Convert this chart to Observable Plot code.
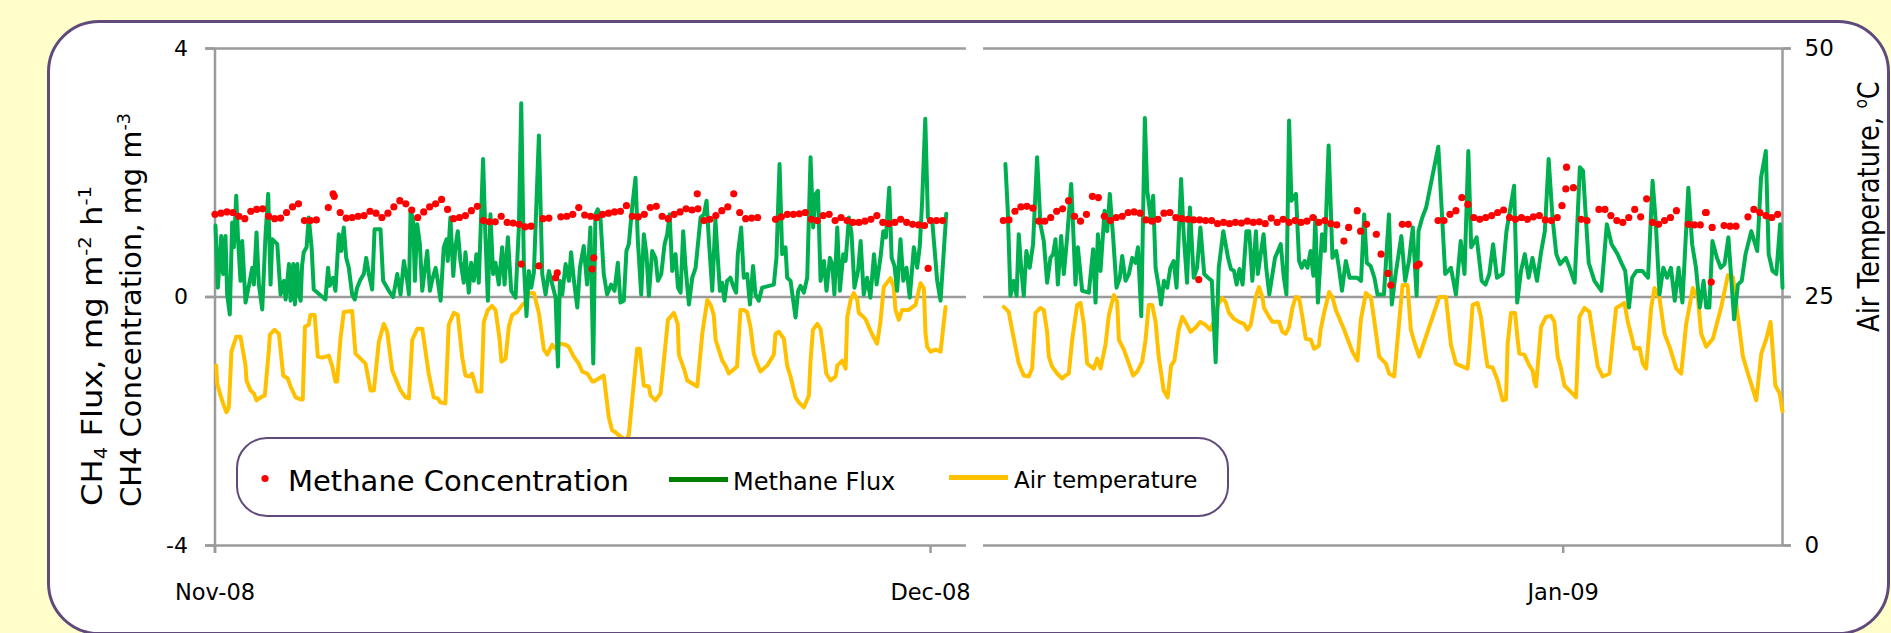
<!DOCTYPE html>
<html>
<head>
<meta charset="utf-8">
<script src="https://cdn.jsdelivr.net/npm/d3@7"></script>
<script src="https://cdn.jsdelivr.net/npm/@observablehq/plot@0.6"></script>
<style>
html,body{margin:0;padding:0;background:#FFFFCC;width:1891px;height:633px;overflow:hidden;position:relative;}
#panel{position:absolute;left:47px;top:20px;width:1843px;height:615px;box-sizing:border-box;border:3px solid #604A7B;border-radius:52px;background:#fff;}
#chart{position:absolute;left:0;top:0;width:1891px;height:633px;}
#chart svg{display:block;}
#overlay{position:absolute;left:0;top:0;}
</style>
</head>
<body>
<div id="panel"></div>
<div id="chart"></div>
<svg id="overlay" width="1891" height="633" font-family="DejaVu Sans">
  <!-- legend -->
  <rect x="237" y="438" width="991" height="78" rx="30" ry="30" fill="#fff" stroke="#604A7B" stroke-width="2"/>
  <circle cx="265" cy="478.5" r="3.6" fill="#FF0000"/>
  <text x="288" y="490.5" font-size="29" fill="#000">Methane Concentration</text>
  <line x1="669" x2="728" y1="479.5" y2="479.5" stroke="#008000" stroke-width="5"/>
  <text x="733" y="490" font-size="24" fill="#000">Methane Flux</text>
  <line x1="949" x2="1008" y1="477.5" y2="477.5" stroke="#FFC000" stroke-width="5"/>
  <text x="1014" y="488" font-size="23" fill="#000">Air temperature</text>
  <!-- axis titles -->
  <text transform="translate(102,506) rotate(-90)" font-size="28" fill="#000" textLength="320" lengthAdjust="spacingAndGlyphs">CH<tspan font-size="17" dy="5">4</tspan><tspan dy="-5"> Flux, mg m</tspan><tspan font-size="17" dy="-11">-2</tspan><tspan dy="11"> h</tspan><tspan font-size="17" dy="-11">-1</tspan></text>
  <text transform="translate(141,507) rotate(-90)" font-size="28" fill="#000" textLength="394" lengthAdjust="spacingAndGlyphs">CH4 Concentration, mg m<tspan font-size="17" dy="-11">-3</tspan></text>
  <text transform="translate(1879,332) rotate(-90) scale(0.86,1)" font-size="30" fill="#000">Air Temperature, <tspan font-size="18" dy="-12">o</tspan><tspan dy="12">C</tspan></text>
</svg>
<script>
// ---- x: days since 1 Nov 2008 (logger gap ~2-7 Dec 2008, axis broken there) ----
const xDomain = [0, 30.67, 37.52, 70.2];
const xTickDays = [0, 30, 61];
const xTickLabels = ["Nov-08", "Dec-08", "Jan-09"];
// ---- y ticks ----
const leftTicks = [-4, 0, 4];
const rightTickLabels = ["0", "25", "50"];
const tempRange = [0, 50];

// Air temperature (deg C), [day, value]
const tempSeg1 = [[0.05,18.1],[0.09,16.3],[0.23,15.1],[0.34,14.3],[0.48,13.4],[0.58,13.9],[0.69,19.5],[0.89,21.0],[1.07,21.0],[1.28,18.1],[1.32,16.6],[1.49,15.6],[1.63,15.3],[1.74,14.6],[1.91,14.9],[2.09,15.1],[2.26,19.7],[2.30,21.2],[2.49,21.7],[2.68,21.3],[2.86,17.1],[3.05,16.8],[3.17,16.0],[3.38,14.9],[3.58,14.7],[3.68,14.7],[3.77,22.0],[3.93,22.2],[4.00,23.2],[4.18,23.2],[4.31,19.0],[4.49,18.9],[4.77,19.1],[4.91,18.1],[5.05,16.5],[5.12,16.5],[5.26,20.8],[5.40,23.5],[5.75,23.6],[5.89,19.3],[6.10,18.8],[6.31,18.3],[6.52,15.6],[6.66,15.6],[6.87,20.5],[7.08,22.3],[7.22,21.5],[7.43,17.6],[7.57,16.8],[7.78,15.6],[7.99,14.9],[8.13,14.8],[8.27,20.7],[8.48,21.8],[8.69,21.8],[8.96,17.3],[9.17,14.9],[9.34,14.8],[9.45,14.4],[9.66,14.3],[9.80,22.2],[10.01,23.4],[10.18,23.2],[10.36,19.0],[10.50,17.1],[10.68,17.0],[10.78,17.3],[10.99,15.5],[11.17,15.5],[11.27,22.5],[11.44,23.7],[11.62,24.1],[11.76,23.7],[11.93,20.8],[12.01,18.5],[12.18,18.8],[12.32,22.0],[12.46,23.2],[12.67,23.5],[12.88,24.2],[13.02,24.5],[13.16,25.4],[13.37,25.4],[13.58,23.4],[13.79,19.7],[13.93,19.2],[14.14,20.2],[14.28,19.8],[14.49,20.3],[14.70,20.2],[14.83,20.0],[15.04,19.0],[15.25,18.3],[15.40,17.5],[15.61,17.3],[15.82,16.5],[15.88,16.5],[16.30,17.1],[16.51,12.9],[16.65,11.6],[16.79,11.4],[16.93,11.1],[17.21,10.6],[17.35,11.1],[17.49,14.6],[17.70,19.8],[17.81,19.8],[17.98,16.1],[18.19,16.0],[18.26,15.1],[18.47,14.6],[18.68,15.3],[18.82,18.6],[18.99,22.7],[19.24,23.4],[19.40,22.3],[19.45,19.2],[19.66,17.8],[19.80,16.6],[20.01,16.3],[20.22,16.0],[20.43,21.3],[20.64,24.7],[20.78,24.2],[20.91,23.2],[20.99,20.7],[21.12,19.7],[21.27,18.6],[21.40,18.1],[21.54,17.3],[21.89,18.0],[22.03,23.7],[22.17,23.7],[22.31,23.5],[22.45,22.0],[22.59,19.3],[22.73,18.3],[22.87,17.5],[23.15,18.1],[23.43,19.2],[23.50,21.3],[23.64,21.5],[23.85,20.8],[23.99,18.1],[24.13,17.0],[24.34,14.9],[24.48,14.4],[24.69,13.9],[24.90,15.1],[24.97,18.6],[25.07,21.7],[25.25,22.3],[25.39,21.8],[25.53,19.3],[25.63,17.3],[25.81,16.6],[26.02,17.0],[26.09,18.1],[26.30,18.6],[26.44,17.8],[26.51,23.0],[26.65,24.7],[26.78,25.4],[26.93,24.7],[26.99,23.4],[27.14,23.1],[27.27,22.8],[27.41,22.0],[27.56,21.2],[27.76,20.3],[27.90,22.5],[28.04,26.0],[28.32,26.9],[28.46,26.0],[28.53,23.7],[28.67,22.7],[28.81,23.7],[29.09,23.7],[29.37,24.2],[29.58,26.4],[29.72,25.9],[29.79,21.3],[29.86,20.0],[30.00,19.5],[30.21,19.7],[30.42,19.5],[30.63,24.0]];
const tempSeg2 = [[37.53,24.0],[37.74,23.5],[37.88,21.7],[38.02,20.0],[38.16,18.3],[38.37,17.1],[38.58,17.0],[38.72,17.8],[38.86,23.4],[39.07,23.9],[39.21,23.7],[39.35,21.5],[39.42,19.0],[39.56,18.0],[39.77,17.3],[39.98,16.8],[40.12,17.1],[40.26,17.3],[40.40,20.7],[40.61,24.2],[40.75,24.4],[40.89,22.3],[41.03,18.3],[41.31,17.8],[41.45,18.8],[41.59,17.8],[41.80,20.2],[41.94,23.2],[42.15,25.2],[42.29,24.5],[42.36,20.7],[42.57,19.7],[42.78,18.3],[42.96,17.1],[43.13,17.5],[43.34,18.5],[43.48,20.7],[43.61,24.2],[43.76,24.2],[43.90,22.5],[44.03,19.0],[44.24,15.6],[44.41,14.9],[44.55,18.1],[44.69,18.6],[44.87,21.7],[45.02,23.0],[45.15,22.5],[45.37,21.5],[45.57,21.9],[45.78,22.5],[45.99,22.2],[46.20,21.7],[46.34,22.5],[46.51,24.2],[46.70,24.9],[46.84,24.5],[46.98,23.4],[47.19,22.8],[47.40,22.5],[47.61,22.3],[47.75,21.7],[47.89,22.2],[48.10,25.0],[48.24,26.0],[48.38,25.0],[48.45,23.9],[48.66,23.0],[48.80,22.5],[49.08,22.5],[49.22,21.5],[49.36,21.3],[49.50,22.0],[49.64,23.9],[49.78,25.0],[49.92,24.9],[50.06,23.0],[50.20,20.8],[50.41,20.7],[50.55,19.8],[50.75,20.1],[50.83,21.8],[50.97,23.4],[51.18,25.5],[51.32,25.0],[51.46,23.7],[51.67,22.5],[51.81,21.7],[51.95,20.8],[52.16,19.5],[52.37,18.6],[52.51,22.7],[52.72,25.4],[52.93,25.0],[53.07,22.7],[53.28,19.0],[53.56,18.3],[53.70,17.3],[53.91,17.0],[54.26,26.2],[54.47,26.2],[54.61,21.7],[54.75,20.5],[54.96,19.0],[55.80,25.0],[56.08,25.0],[56.29,20.2],[56.50,18.3],[56.78,18.0],[56.99,17.8],[57.06,19.7],[57.20,24.2],[57.41,24.4],[57.55,23.0],[57.76,19.0],[57.83,18.0],[58.04,17.9],[58.25,16.6],[58.46,14.6],[58.60,14.7],[58.67,20.3],[58.81,23.4],[58.98,23.4],[59.09,20.7],[59.16,19.3],[59.37,19.2],[59.58,18.1],[59.72,17.6],[59.79,16.5],[59.86,16.0],[60.07,22.0],[60.28,23.0],[60.49,23.1],[60.63,22.5],[60.77,19.0],[60.91,17.8],[61.05,16.1],[61.26,15.6],[61.54,14.9],[61.68,23.0],[61.89,23.9],[62.10,23.5],[62.24,21.3],[62.45,18.0],[62.66,17.0],[62.94,17.3],[63.08,20.7],[63.22,23.9],[63.43,24.2],[63.57,24.4],[63.71,22.5],[63.85,21.2],[63.99,19.8],[64.20,19.9],[64.34,18.3],[64.48,17.8],[64.69,23.9],[64.83,25.9],[65.04,24.9],[65.25,21.3],[65.46,20.0],[65.74,17.8],[65.95,17.3],[66.16,22.3],[66.44,25.9],[66.65,24.9],[66.79,21.3],[67.00,20.0],[67.28,20.8],[67.63,24.0],[67.91,27.2],[68.12,27.0],[68.33,23.0],[68.54,19.0],[68.75,17.3],[69.10,14.6],[69.31,19.3],[69.52,20.8],[69.70,22.5],[69.90,16.1],[70.08,15.3],[70.2,13.5]];

// Methane flux (mg m-2 h-1), [day, value]
const fluxSeg1 = [[0.02,1.15],[0.12,0.15],[0.26,0.98],[0.34,0.37],[0.44,0.98],[0.51,0.04],[0.62,-0.28],[0.72,1.20],[0.79,0.80],[0.89,1.63],[0.97,0.90],[1.07,0.26],[1.14,0.90],[1.28,-0.09],[1.46,0.26],[1.56,0.47],[1.63,0.20],[1.74,1.04],[1.84,0.20],[1.98,-0.20],[2.12,1.01],[2.23,1.66],[2.33,0.20],[2.40,0.93],[2.61,0.85],[2.75,0.04],[2.89,0.26],[2.96,-0.04],[3.10,0.53],[3.17,-0.06],[3.28,0.53],[3.35,-0.12],[3.45,0.53],[3.52,0.04],[3.59,-0.06],[3.65,0.50],[3.72,0.72],[3.84,0.80],[3.93,1.28],[4.05,0.80],[4.14,0.12],[4.63,-0.04],[4.74,0.47],[4.81,0.18],[4.95,0.31],[5.05,0.10],[5.19,1.01],[5.29,0.74],[5.40,1.12],[5.50,0.63],[5.61,0.47],[5.75,0.04],[5.86,-0.04],[5.96,0.15],[6.10,0.28],[6.24,0.37],[6.34,0.63],[6.45,0.37],[6.59,0.12],[6.69,1.09],[6.94,1.09],[7.05,0.26],[7.29,0.10],[7.47,0.00],[7.64,0.37],[7.78,0.04],[7.92,0.58],[8.06,0.26],[8.13,0.04],[8.20,1.41],[8.31,1.23],[8.38,0.26],[8.48,1.17],[8.59,0.85],[8.69,0.10],[8.78,0.39],[8.90,0.74],[9.01,0.10],[9.11,0.28],[9.25,0.47],[9.34,0.26],[9.46,-0.06],[9.59,0.80],[9.71,0.93],[9.76,0.58],[9.87,1.28],[9.99,0.34],[10.08,0.80],[10.18,1.06],[10.29,0.58],[10.43,0.23],[10.50,0.72],[10.64,0.07],[10.74,0.55],[10.85,0.26],[10.96,0.69],[11.06,0.23],[11.24,2.22],[11.34,0.96],[11.44,-0.06],[11.55,1.33],[11.66,0.37],[11.76,0.55],[11.90,0.20],[12.04,0.80],[12.14,0.20],[12.28,0.96],[12.42,0.10],[12.60,-0.01],[12.74,1.12],[12.84,3.12],[12.95,0.53],[13.06,-0.31],[13.16,0.42],[13.26,0.15],[13.37,0.39],[13.58,2.60],[13.72,0.37],[13.86,0.04],[14.00,0.42],[14.14,0.20],[14.28,-0.01],[14.38,-1.12],[14.46,0.26],[14.56,0.04],[14.70,0.53],[14.84,0.26],[14.93,0.72],[15.05,0.26],[15.19,-0.17],[15.30,0.47],[15.46,0.82],[15.60,0.20],[15.74,1.12],[15.86,-1.07],[15.95,1.33],[16.05,1.41],[16.16,1.28],[16.30,0.37],[16.44,0.04],[16.61,0.20],[16.75,0.10],[16.89,0.55],[17.00,-0.09],[17.14,-0.06],[17.25,0.74],[17.35,0.85],[17.49,1.44],[17.63,1.92],[17.73,0.90],[17.87,0.04],[17.98,1.01],[18.09,0.69],[18.19,0.02],[18.33,0.74],[18.47,0.63],[18.57,0.26],[18.71,0.37],[18.85,0.85],[18.96,1.01],[19.06,1.33],[19.17,0.42],[19.31,0.69],[19.41,0.15],[19.52,0.07],[19.63,1.06],[19.73,0.47],[19.87,-0.12],[20.01,0.31],[20.15,0.47],[20.36,1.28],[20.50,1.33],[20.61,1.55],[20.71,0.90],[20.85,0.10],[20.98,1.25],[21.08,0.63],[21.17,0.10],[21.26,0.23],[21.36,-0.06],[21.47,0.26],[21.61,0.31],[21.75,0.15],[21.85,0.07],[21.92,0.69],[22.06,1.12],[22.17,0.31],[22.31,0.37],[22.43,-0.12],[22.56,0.50],[22.66,0.04],[22.80,-0.06],[22.94,0.15],[23.43,0.20],[23.54,0.63],[23.67,2.14],[23.78,0.69],[23.92,0.80],[23.99,0.31],[24.13,0.26],[24.34,-0.33],[24.45,0.10],[24.55,0.18],[24.69,0.07],[24.83,0.31],[24.97,2.25],[25.08,1.12],[25.18,1.66],[25.28,1.71],[25.39,0.26],[25.53,0.58],[25.64,0.10],[25.78,0.63],[25.88,0.53],[25.97,0.04],[26.09,1.12],[26.20,0.10],[26.34,0.69],[26.44,0.58],[26.58,1.28],[26.69,1.01],[26.81,0.15],[26.96,0.42],[27.07,0.90],[27.20,0.04],[27.34,0.31],[27.48,-0.01],[27.63,0.69],[27.74,0.20],[27.90,0.63],[28.02,1.06],[28.13,0.96],[28.27,1.76],[28.37,0.63],[28.49,0.50],[28.60,0.10],[28.74,0.93],[28.86,0.26],[28.99,0.47],[29.13,-0.01],[29.30,0.80],[29.44,0.47],[29.55,0.82],[29.65,1.55],[29.78,2.87],[29.89,1.28],[30.07,1.23],[30.28,0.26],[30.42,-0.06],[30.66,1.34]];
const fluxSeg2 = [[37.60,2.14],[37.70,1.39],[37.81,0.02],[37.95,0.26],[38.07,0.02],[38.16,1.01],[38.26,0.47],[38.37,0.02],[38.48,0.74],[38.62,0.47],[38.76,0.85],[38.93,2.25],[39.07,1.17],[39.21,0.90],[39.35,0.23],[39.49,0.63],[39.60,0.69],[39.70,0.93],[39.80,0.20],[39.94,0.98],[40.05,0.37],[40.19,0.96],[40.36,1.82],[40.44,1.12],[40.54,0.20],[40.64,0.80],[40.82,0.10],[41.10,0.07],[41.28,0.77],[41.38,-0.09],[41.48,1.01],[41.59,0.42],[41.76,1.39],[41.87,1.06],[41.98,1.66],[42.12,0.96],[42.26,0.15],[42.40,0.31],[42.50,0.66],[42.64,0.26],[42.78,0.37],[42.92,0.63],[43.06,0.55],[43.16,0.80],[43.30,-0.31],[43.45,2.88],[43.55,1.71],[43.69,1.28],[43.80,1.63],[43.90,0.47],[44.04,0.15],[44.13,-0.12],[44.25,0.26],[44.39,0.15],[44.52,0.47],[44.66,0.58],[44.78,0.15],[44.97,1.90],[45.08,1.01],[45.22,0.23],[45.34,1.44],[45.50,0.31],[45.64,0.47],[45.78,1.12],[45.94,0.37],[46.10,0.31],[46.26,0.26],[46.42,-1.05],[46.55,0.47],[46.74,1.06],[46.94,0.63],[47.06,0.45],[47.19,0.42],[47.30,0.20],[47.42,0.45],[47.55,0.20],[47.71,1.06],[47.83,1.06],[47.96,0.26],[48.11,1.06],[48.19,0.37],[48.43,1.01],[48.54,0.47],[48.67,0.04],[48.91,0.63],[49.15,0.85],[49.28,0.31],[49.39,0.04],[49.50,2.84],[49.60,1.55],[49.79,1.66],[49.92,0.58],[50.03,0.47],[50.15,0.58],[50.27,0.47],[50.40,0.74],[50.52,0.34],[50.60,1.28],[50.71,-0.09],[50.88,1.01],[51.00,0.74],[51.16,2.44],[51.32,0.63],[51.48,0.74],[51.59,0.47],[51.72,0.10],[51.88,0.58],[52.04,0.31],[52.36,0.31],[52.52,0.26],[52.65,1.33],[52.76,0.55],[52.92,0.50],[53.08,0.31],[53.21,0.04],[53.48,0.04],[53.69,1.33],[53.81,-0.12],[53.97,0.37],[54.21,0.98],[54.37,0.26],[54.53,0.58],[54.69,1.12],[54.85,0.02],[54.93,1.06],[55.09,1.28],[55.25,1.44],[55.76,2.42],[56.05,0.37],[56.29,0.47],[56.50,0.04],[56.70,0.90],[56.86,0.37],[57.02,2.35],[57.14,0.80],[57.37,0.96],[57.58,0.26],[57.74,0.20],[57.90,0.37],[58.06,0.85],[58.22,0.31],[58.46,0.37],[58.62,1.06],[58.81,1.49],[58.94,1.79],[59.07,-0.09],[59.23,0.42],[59.39,0.69],[59.55,0.31],[59.71,0.63],[59.90,0.26],[60.07,0.72],[60.23,1.06],[60.39,2.22],[60.55,1.28],[60.71,0.69],[60.87,0.53],[61.11,0.63],[61.27,0.47],[61.48,0.23],[61.70,2.09],[61.83,2.03],[62.07,0.55],[62.31,0.26],[62.60,0.10],[62.83,1.17],[63.03,0.85],[63.28,0.69],[63.44,0.55],[63.60,0.42],[63.76,-0.17],[63.89,0.31],[64.08,0.42],[64.32,0.42],[64.56,0.31],[64.75,1.87],[64.88,1.23],[65.04,0.04],[65.20,0.47],[65.36,0.31],[65.52,0.47],[65.68,-0.06],[65.84,0.47],[66.00,-0.09],[66.25,1.76],[66.41,0.85],[66.57,0.47],[66.73,-0.17],[66.89,0.26],[67.00,-0.17],[67.13,-0.17],[67.26,0.90],[67.45,0.63],[67.61,0.47],[67.77,0.53],[67.93,0.96],[68.17,-0.36],[68.33,0.20],[68.49,0.26],[68.65,0.69],[68.89,1.06],[69.14,0.74],[69.30,1.92],[69.50,2.35],[69.62,0.69],[69.78,0.42],[69.94,0.37],[70.10,1.17],[70.20,0.15]];

// Methane concentration (mg m-3), 6-hourly readings; null = no reading
const concStart1 = 0, concStart2 = 37.5, concStep = 0.25;
const concSeg1 = [1.33,1.35,1.37,1.36,1.30,1.26,1.38,1.41,1.42,1.30,1.26,1.27,1.36,1.45,1.50,1.23,1.23,1.24,null,1.44,1.62,1.36,1.27,1.28,1.30,1.31,1.38,1.35,1.28,1.35,1.45,1.55,1.50,1.40,1.28,1.37,1.45,1.50,1.57,1.41,1.26,1.28,1.31,1.39,1.46,1.23,1.21,1.21,1.30,1.20,1.19,1.17,1.13,1.14,null,1.26,1.27,null,1.29,1.30,1.33,1.44,1.32,1.30,1.28,1.33,1.35,1.37,1.38,1.47,1.30,1.29,1.33,1.44,1.46,1.30,1.26,1.33,1.37,1.42,1.40,1.42,
  1.23,1.25,1.31,1.39,1.45,1.66,1.36,1.26,1.27,1.28,null,null,1.25,1.29,1.33,1.33,1.34,1.36,1.25,1.23,1.31,1.33,1.23,1.28,1.23,1.20,1.20,1.22,1.25,1.31,1.20,1.18,1.20,1.25,1.20,1.17,1.16,1.15,1.23,1.23,1.23];
const concSeg2 = [1.23,1.24,1.38,1.45,1.46,1.43,1.22,1.22,1.28,1.38,1.42,1.55,1.30,1.22,1.33,1.62,1.60,1.30,1.23,1.28,1.30,1.36,1.37,1.35,1.24,1.22,1.25,1.35,1.36,1.28,1.26,1.25,1.24,1.24,
  1.23,1.23,1.18,1.20,1.18,1.20,1.19,1.22,1.20,1.21,1.18,1.27,1.20,1.25,1.20,1.23,1.20,1.22,1.28,1.20,1.23,1.18,1.16,null,1.12,null,1.06,1.17,null,null,null,null,null,1.17,1.17,null,null,null,null,1.23,1.23,1.33,1.39,1.60,1.49,1.28,1.25,1.28,1.31,1.36,1.40,1.28,1.25,1.28,1.25,1.29,1.31,1.24,1.23,1.28,null,null,null,1.25,1.23,null,1.41,1.41,1.31,1.23,1.20,1.28,1.41,1.29,1.58,1.20,1.17,1.23,1.28,1.39,null,1.17,1.16,1.16,1.36,1.12,null,1.15,1.14,1.14,null,1.29,1.41,1.36,1.31,1.28,1.33];
const concOutliers = [[4.95,1.66],[12.84,0.53],[13.58,0.50],[14.28,0.31],[14.35,0.39],[15.81,0.45],[15.88,0.63],[20.22,1.66],[29.90,0.46],[45.71,0.28],[51.80,0.90],[52.36,1.39],[53.16,1.01],[53.36,0.69],[53.65,0.38],[53.77,0.19],[54.85,0.50],[54.96,0.53],[60.95,1.47],[61.11,1.74],[61.14,2.09],[61.43,1.76],[66.97,1.36],[67.21,0.24]];

// ---- build ----
const tY = t => -4 + (t - tempRange[0]) / (tempRange[1] - tempRange[0]) * 8;
const concPts = [];
concSeg1.forEach((v, i) => { if (v != null) concPts.push([concStart1 + i * concStep, v]); });
concSeg2.forEach((v, i) => { if (v != null) concPts.push([concStart2 + i * concStep, v]); });
concOutliers.forEach(p => concPts.push(p));

const gridColor = "#9b9b9b";
const axisBreak = [[-0.4, 33.07], [35.12, 70.54]];

const chart = Plot.plot({
  width: 1891, height: 633,
  marginLeft: 214.5, marginRight: 109, marginTop: 48, marginBottom: 88,
  style: {background: "transparent", fontFamily: "DejaVu Sans", color: "#000", overflow: "visible"},
  x: {type: "linear", domain: xDomain, range: [214.5, 946, 1003, 1782]},
  y: {domain: [-4, 4], range: [545, 48]},
  marks: [
    ...axisBreak.map(([a, b]) => Plot.ruleY(leftTicks, {x1: () => a, x2: () => b, stroke: gridColor, strokeWidth: 2.5})),
    Plot.ruleX([xDomain[0]], {y1: () => -4.13, y2: () => 4, stroke: gridColor, strokeWidth: 2.5}),
    Plot.ruleX([xDomain[3]], {y1: () => -4, y2: () => 4, stroke: gridColor, strokeWidth: 2.5}),
    Plot.axisY(leftTicks, {anchor: "left", label: null, tickSize: 9, tickPadding: 18, fontSize: 22,
      tickFormat: d => String(d), stroke: gridColor, strokeWidth: 2.5, fill: "#000"}),
    Plot.axisY(leftTicks, {anchor: "right", label: null, tickSize: 8, tickPadding: 14, fontSize: 23,
      tickFormat: d => rightTickLabels[leftTicks.indexOf(d)], stroke: gridColor, strokeWidth: 2.5, fill: "#000"}),
    Plot.axisX(xTickDays, {anchor: "bottom", label: null, tickSize: 8, tickPadding: 31, fontSize: 22.5,
      tickFormat: d => xTickLabels[xTickDays.indexOf(d)], stroke: gridColor, strokeWidth: 2.5, fill: "#000"}),
    Plot.line(tempSeg1, {x: d => d[0], y: d => tY(d[1]), stroke: "#FFC000", strokeWidth: 4}),
    Plot.line(tempSeg2, {x: d => d[0], y: d => tY(d[1]), stroke: "#FFC000", strokeWidth: 4}),
    Plot.line(fluxSeg1, {x: d => d[0], y: d => d[1], stroke: "#00B050", strokeWidth: 4}),
    Plot.line(fluxSeg2, {x: d => d[0], y: d => d[1], stroke: "#00B050", strokeWidth: 4}),
    Plot.dot(concPts, {x: d => d[0], y: d => d[1], r: 3.6, fill: "#FF0000", stroke: "none"})
  ]
});
document.getElementById("chart").appendChild(chart);
</script>
</body>
</html>
